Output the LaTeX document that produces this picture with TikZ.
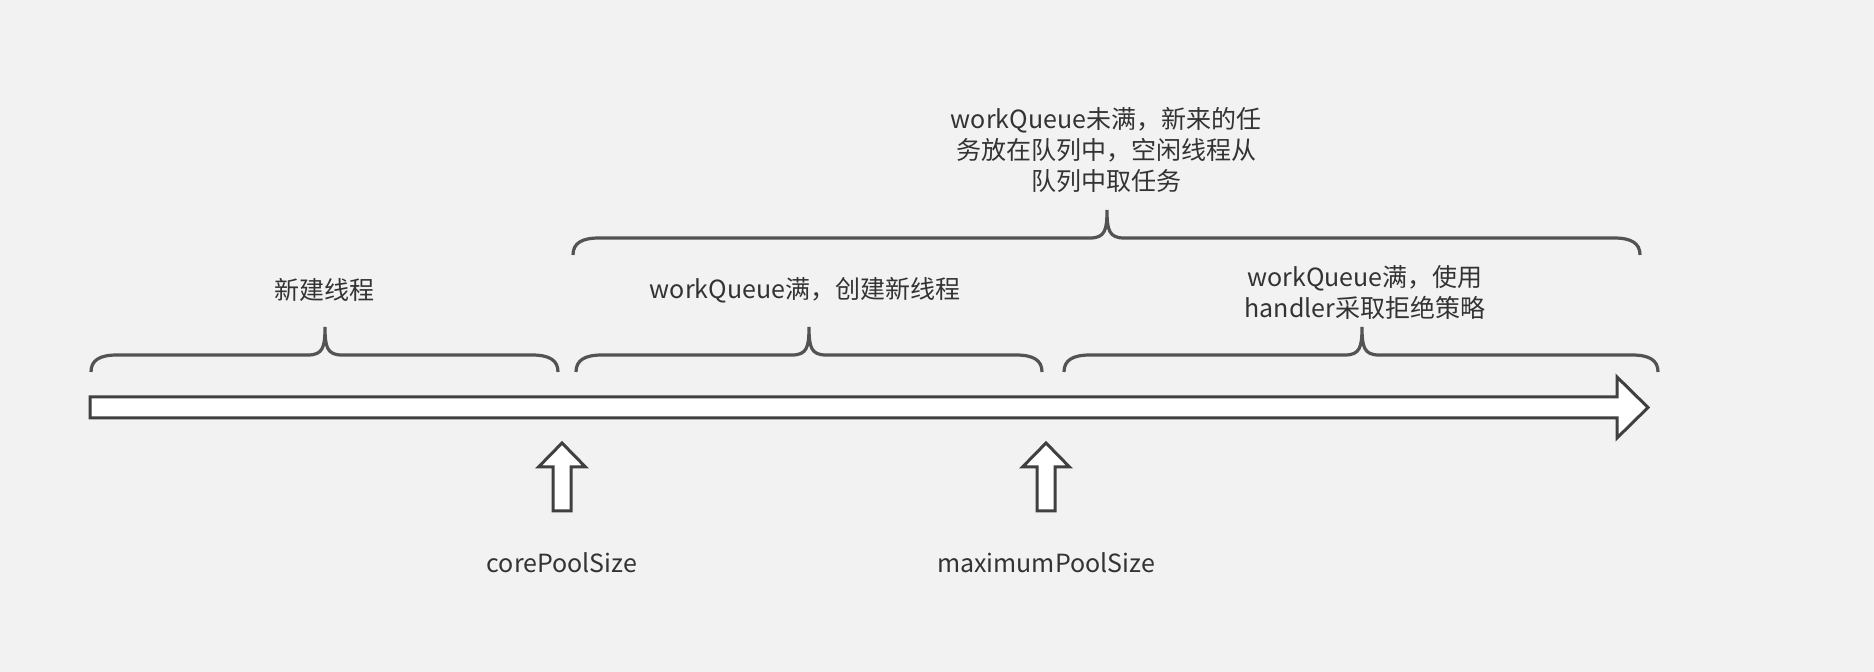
\documentclass[tikz,border=0pt]{standalone}
\usepackage{fontspec}
\setmainfont{Noto Sans CJK SC}
\usepackage{tikz}
\usetikzlibrary{positioning}
\usepackage{xcolor}
\definecolor{paper}{HTML}{F2F2F2}
\definecolor{ink}{HTML}{404040}
\definecolor{txt}{HTML}{333333}

% curly brace: left x, right x, cusp x, y of the flat part
\newcommand{\spanbrace}[4]{%
  \draw[brace] (#1,#4+17) .. controls (#1,#4+5) and (#1+9,#4) .. (#1+26,#4)
    -- (#3-17,#4) .. controls (#3-2,#4) and (#3,#4-8) .. (#3,#4-28)
    .. controls (#3,#4-8) and (#3+2,#4) .. (#3+17,#4)
    -- (#2-26,#4) .. controls (#2-9,#4) and (#2,#4+5) .. (#2,#4+17);}

\begin{document}
\begin{tikzpicture}[x=0.5pt,y=-0.5pt]
    \tikzstyle{hollow}=[draw=ink,fill=white,line width=1.5pt,line join=miter]
    \tikzstyle{brace}=[draw=ink!90,line width=1.6pt,line cap=butt]
    \tikzstyle{label}=[text=txt,font=\fontsize{12.5}{15.5}\selectfont,align=center,inner sep=0pt]

    \fill[paper] (0,0) rectangle (1874,672);
    \useasboundingbox (0,0) rectangle (1874,672);

    % time line
    \draw[hollow] (90,397) -- (1617,397) -- (1617,377) -- (1648,407.5)
        -- (1617,438) -- (1617,418) -- (90,418) -- cycle;

    % marks below the line
    \coordinate (core) at (562,443);
    \coordinate (max) at (1046,443);
    \draw[hollow] (core) -- ++(23.5,24) -- ++(-14.5,0) -- ++(0,44) -- ++(-18,0)
        -- ++(0,-44) -- ++(-14.5,0) -- cycle;
    \draw[hollow] (max) -- ++(23.5,24) -- ++(-14.5,0) -- ++(0,44) -- ++(-18,0)
        -- ++(0,-44) -- ++(-14.5,0) -- cycle;

    \node[label] (coreL) at (562,563) {corePoolSize};
    \node[label] (maxL) at (1046,563) {maximumPoolSize};

    % braces
    \spanbrace{91}{558}{325}{355}
    \spanbrace{576}{1042}{809}{355}
    \spanbrace{1064}{1658}{1362}{355}
    \spanbrace{573}{1640}{1107}{238}

    \node[label] (newT) at (324,290) {新建线程};
    \node[label] (growT) at (805,290) {workQueue满，创建新线程};
    \node[label] (rejectT) at (1365,292) {workQueue满，使用\\handler采取拒绝策略};
    \node[label] (queueT) at (1106,150) {workQueue未满，新来的任\\务放在队列中，空闲线程从\\队列中取任务};
\end{tikzpicture}
\end{document}
